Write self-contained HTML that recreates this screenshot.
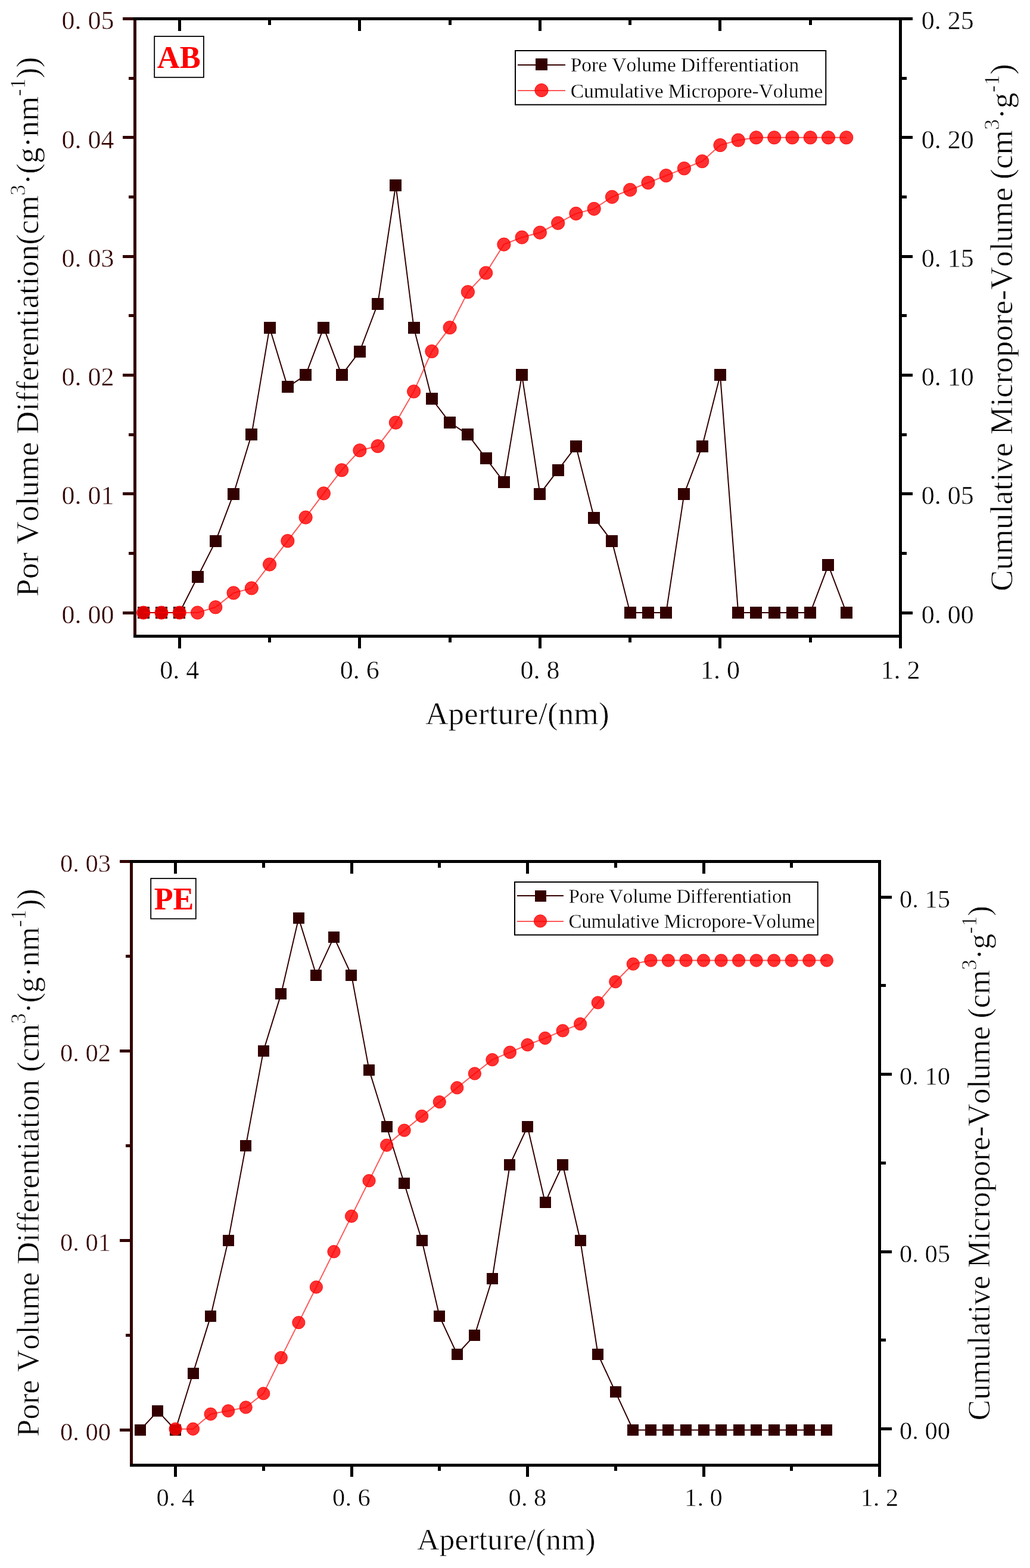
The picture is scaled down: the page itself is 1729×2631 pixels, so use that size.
<!DOCTYPE html>
<html><head><meta charset="utf-8"><title>Pore volume distribution</title>
<style>html,body{margin:0;padding:0;background:#fff;}svg{display:block;}text{font-family:'Liberation Serif', 'Times New Roman', serif;font-kerning:none;font-variant-ligatures:none;stroke:#fff;stroke-width:0.6px;}text.b{stroke:none;}text.lg{stroke-width:0.3px;}text.tk{stroke-width:0.45px;}</style>
</head><body>
<svg width="1729" height="2631" viewBox="0 0 1729 2631">
<rect width="1729" height="2631" fill="#fff"/>
<rect x="206" y="1026" width="18" height="5" fill="#330000"/>
<rect x="206" y="826" width="18" height="5" fill="#330000"/>
<rect x="206" y="627" width="18" height="5" fill="#330000"/>
<rect x="206" y="428" width="18" height="5" fill="#330000"/>
<rect x="206" y="228" width="18" height="5" fill="#330000"/>
<rect x="206" y="29" width="18" height="5" fill="#330000"/>
<rect x="216" y="926" width="8" height="5" fill="#330000"/>
<rect x="216" y="727" width="8" height="5" fill="#330000"/>
<rect x="216" y="527" width="8" height="5" fill="#330000"/>
<rect x="216" y="328" width="8" height="5" fill="#330000"/>
<rect x="216" y="129" width="8" height="5" fill="#330000"/>
<rect x="1514" y="1026" width="18" height="5" fill="#000"/>
<rect x="1514" y="826" width="18" height="5" fill="#000"/>
<rect x="1514" y="627" width="18" height="5" fill="#000"/>
<rect x="1514" y="428" width="18" height="5" fill="#000"/>
<rect x="1514" y="228" width="18" height="5" fill="#000"/>
<rect x="1514" y="29" width="18" height="5" fill="#000"/>
<rect x="1514" y="926" width="8" height="5" fill="#000"/>
<rect x="1514" y="727" width="8" height="5" fill="#000"/>
<rect x="1514" y="527" width="8" height="5" fill="#000"/>
<rect x="1514" y="328" width="8" height="5" fill="#000"/>
<rect x="1514" y="129" width="8" height="5" fill="#000"/>
<rect x="299" y="1070" width="5" height="18" fill="#000"/>
<rect x="299" y="34" width="5" height="18" fill="#000"/>
<rect x="601" y="1070" width="5" height="18" fill="#000"/>
<rect x="601" y="34" width="5" height="18" fill="#000"/>
<rect x="904" y="1070" width="5" height="18" fill="#000"/>
<rect x="904" y="34" width="5" height="18" fill="#000"/>
<rect x="1206" y="1070" width="5" height="18" fill="#000"/>
<rect x="1206" y="34" width="5" height="18" fill="#000"/>
<rect x="1509" y="1070" width="5" height="18" fill="#000"/>
<rect x="1509" y="34" width="5" height="18" fill="#000"/>
<rect x="450" y="1070" width="5" height="8" fill="#000"/>
<rect x="450" y="34" width="5" height="8" fill="#000"/>
<rect x="753" y="1070" width="5" height="8" fill="#000"/>
<rect x="753" y="34" width="5" height="8" fill="#000"/>
<rect x="1055" y="1070" width="5" height="8" fill="#000"/>
<rect x="1055" y="34" width="5" height="8" fill="#000"/>
<rect x="1358" y="1070" width="5" height="8" fill="#000"/>
<rect x="1358" y="34" width="5" height="8" fill="#000"/>
<rect x="224" y="29" width="5" height="1041" fill="#330000"/>
<rect x="1509" y="29" width="5" height="1041" fill="#000"/>
<rect x="224" y="1065" width="1290" height="5" fill="#000"/>
<rect x="224" y="29" width="1290" height="5" fill="#000"/>
<text x="103.50 125.50 147.50 169.50" y="1045.70" font-size="44" class="tk" fill="#330000">0.00</text>
<text x="103.50 125.50 147.50 169.50" y="846.40" font-size="44" class="tk" fill="#330000">0.01</text>
<text x="103.50 125.50 147.50 169.50" y="647.10" font-size="44" class="tk" fill="#330000">0.02</text>
<text x="103.50 125.50 147.50 169.50" y="447.80" font-size="44" class="tk" fill="#330000">0.03</text>
<text x="103.50 125.50 147.50 169.50" y="248.50" font-size="44" class="tk" fill="#330000">0.04</text>
<text x="103.50 125.50 147.50 169.50" y="49.20" font-size="44" class="tk" fill="#330000">0.05</text>
<text x="1546.80 1568.80 1590.80 1612.80" y="1045.70" font-size="44" class="tk" fill="#000">0.00</text>
<text x="1546.80 1568.80 1590.80 1612.80" y="846.40" font-size="44" class="tk" fill="#000">0.05</text>
<text x="1546.80 1568.80 1590.80 1612.80" y="647.10" font-size="44" class="tk" fill="#000">0.10</text>
<text x="1546.80 1568.80 1590.80 1612.80" y="447.80" font-size="44" class="tk" fill="#000">0.15</text>
<text x="1546.80 1568.80 1590.80 1612.80" y="248.50" font-size="44" class="tk" fill="#000">0.20</text>
<text x="1546.80 1568.80 1590.80 1612.80" y="49.20" font-size="44" class="tk" fill="#000">0.25</text>
<text x="268.30 290.30 312.30" y="1138.50" font-size="44" class="tk" fill="#000">0.4</text>
<text x="570.85 592.85 614.85" y="1138.50" font-size="44" class="tk" fill="#000">0.6</text>
<text x="873.40 895.40 917.40" y="1138.50" font-size="44" class="tk" fill="#000">0.8</text>
<text x="1175.95 1197.95 1219.95" y="1138.50" font-size="44" class="tk" fill="#000">1.0</text>
<text x="1478.50 1500.50 1522.50" y="1138.50" font-size="44" class="tk" fill="#000">1.2</text>
<polyline points="240.79,1028.00 271.04,1028.00 301.30,1028.00 331.55,968.21 361.81,908.42 392.06,828.70 422.32,729.05 452.57,549.68 482.83,649.33 513.09,629.40 543.34,549.68 573.59,629.40 603.85,589.54 634.11,509.82 664.36,310.52 694.62,549.68 724.87,669.26 755.12,709.12 785.38,729.05 815.63,768.91 845.89,808.77 876.14,629.40 906.40,828.70 936.65,788.84 966.91,748.98 997.16,868.56 1027.42,908.42 1057.67,1028.00 1087.93,1028.00 1118.18,1028.00 1148.44,828.70 1178.69,748.98 1208.95,629.40 1239.21,1028.00 1269.46,1028.00 1299.72,1028.00 1329.97,1028.00 1360.22,1028.00 1390.48,948.28 1420.73,1028.00" fill="none" stroke="#330000" stroke-width="2" stroke-linejoin="miter"/>
<rect x="231" y="1018" width="20" height="20" fill="#330000"/>
<rect x="261" y="1018" width="20" height="20" fill="#330000"/>
<rect x="291" y="1018" width="20" height="20" fill="#330000"/>
<rect x="322" y="958" width="20" height="20" fill="#330000"/>
<rect x="352" y="898" width="20" height="20" fill="#330000"/>
<rect x="382" y="819" width="20" height="20" fill="#330000"/>
<rect x="412" y="719" width="20" height="20" fill="#330000"/>
<rect x="443" y="540" width="20" height="20" fill="#330000"/>
<rect x="473" y="639" width="20" height="20" fill="#330000"/>
<rect x="503" y="619" width="20" height="20" fill="#330000"/>
<rect x="533" y="540" width="20" height="20" fill="#330000"/>
<rect x="564" y="619" width="20" height="20" fill="#330000"/>
<rect x="594" y="580" width="20" height="20" fill="#330000"/>
<rect x="624" y="500" width="20" height="20" fill="#330000"/>
<rect x="654" y="301" width="20" height="20" fill="#330000"/>
<rect x="685" y="540" width="20" height="20" fill="#330000"/>
<rect x="715" y="659" width="20" height="20" fill="#330000"/>
<rect x="745" y="699" width="20" height="20" fill="#330000"/>
<rect x="775" y="719" width="20" height="20" fill="#330000"/>
<rect x="806" y="759" width="20" height="20" fill="#330000"/>
<rect x="836" y="799" width="20" height="20" fill="#330000"/>
<rect x="866" y="619" width="20" height="20" fill="#330000"/>
<rect x="896" y="819" width="20" height="20" fill="#330000"/>
<rect x="927" y="779" width="20" height="20" fill="#330000"/>
<rect x="957" y="739" width="20" height="20" fill="#330000"/>
<rect x="987" y="859" width="20" height="20" fill="#330000"/>
<rect x="1017" y="898" width="20" height="20" fill="#330000"/>
<rect x="1048" y="1018" width="20" height="20" fill="#330000"/>
<rect x="1078" y="1018" width="20" height="20" fill="#330000"/>
<rect x="1108" y="1018" width="20" height="20" fill="#330000"/>
<rect x="1138" y="819" width="20" height="20" fill="#330000"/>
<rect x="1169" y="739" width="20" height="20" fill="#330000"/>
<rect x="1199" y="619" width="20" height="20" fill="#330000"/>
<rect x="1229" y="1018" width="20" height="20" fill="#330000"/>
<rect x="1259" y="1018" width="20" height="20" fill="#330000"/>
<rect x="1290" y="1018" width="20" height="20" fill="#330000"/>
<rect x="1320" y="1018" width="20" height="20" fill="#330000"/>
<rect x="1350" y="1018" width="20" height="20" fill="#330000"/>
<rect x="1380" y="938" width="20" height="20" fill="#330000"/>
<rect x="1411" y="1018" width="20" height="20" fill="#330000"/>
<polyline points="240.79,1028.00 271.04,1028.00 301.30,1028.00 331.55,1028.00 361.81,1018.83 392.06,994.92 422.32,986.94 452.57,947.08 482.83,907.62 513.09,868.16 543.34,827.90 573.59,788.84 603.85,755.76 634.11,748.58 664.36,709.12 694.62,656.90 724.87,589.54 755.12,549.68 785.38,489.89 815.63,458.00 845.89,410.17 876.14,398.21 906.40,390.24 936.65,374.30 966.91,358.35 997.16,350.38 1027.42,330.45 1057.67,318.49 1087.93,306.53 1118.18,294.58 1148.44,282.62 1178.69,270.66 1208.95,243.56 1239.21,235.18 1269.46,230.80 1299.72,230.80 1329.97,230.80 1360.22,230.80 1390.48,230.80 1420.73,230.80" fill="none" stroke="#ff0000" stroke-opacity="0.66" stroke-width="2"/>
<circle cx="240.79" cy="1028.00" r="11.10" fill="#ff0000" fill-opacity="0.81" stroke="#ff0000" stroke-opacity="0.9" stroke-width="1"/>
<circle cx="271.04" cy="1028.00" r="11.10" fill="#ff0000" fill-opacity="0.81" stroke="#ff0000" stroke-opacity="0.9" stroke-width="1"/>
<circle cx="301.30" cy="1028.00" r="11.10" fill="#ff0000" fill-opacity="0.81" stroke="#ff0000" stroke-opacity="0.9" stroke-width="1"/>
<circle cx="331.55" cy="1028.00" r="11.10" fill="#ff0000" fill-opacity="0.81" stroke="#ff0000" stroke-opacity="0.9" stroke-width="1"/>
<circle cx="361.81" cy="1018.83" r="11.10" fill="#ff0000" fill-opacity="0.81" stroke="#ff0000" stroke-opacity="0.9" stroke-width="1"/>
<circle cx="392.06" cy="994.92" r="11.10" fill="#ff0000" fill-opacity="0.81" stroke="#ff0000" stroke-opacity="0.9" stroke-width="1"/>
<circle cx="422.32" cy="986.94" r="11.10" fill="#ff0000" fill-opacity="0.81" stroke="#ff0000" stroke-opacity="0.9" stroke-width="1"/>
<circle cx="452.57" cy="947.08" r="11.10" fill="#ff0000" fill-opacity="0.81" stroke="#ff0000" stroke-opacity="0.9" stroke-width="1"/>
<circle cx="482.83" cy="907.62" r="11.10" fill="#ff0000" fill-opacity="0.81" stroke="#ff0000" stroke-opacity="0.9" stroke-width="1"/>
<circle cx="513.09" cy="868.16" r="11.10" fill="#ff0000" fill-opacity="0.81" stroke="#ff0000" stroke-opacity="0.9" stroke-width="1"/>
<circle cx="543.34" cy="827.90" r="11.10" fill="#ff0000" fill-opacity="0.81" stroke="#ff0000" stroke-opacity="0.9" stroke-width="1"/>
<circle cx="573.59" cy="788.84" r="11.10" fill="#ff0000" fill-opacity="0.81" stroke="#ff0000" stroke-opacity="0.9" stroke-width="1"/>
<circle cx="603.85" cy="755.76" r="11.10" fill="#ff0000" fill-opacity="0.81" stroke="#ff0000" stroke-opacity="0.9" stroke-width="1"/>
<circle cx="634.11" cy="748.58" r="11.10" fill="#ff0000" fill-opacity="0.81" stroke="#ff0000" stroke-opacity="0.9" stroke-width="1"/>
<circle cx="664.36" cy="709.12" r="11.10" fill="#ff0000" fill-opacity="0.81" stroke="#ff0000" stroke-opacity="0.9" stroke-width="1"/>
<circle cx="694.62" cy="656.90" r="11.10" fill="#ff0000" fill-opacity="0.81" stroke="#ff0000" stroke-opacity="0.9" stroke-width="1"/>
<circle cx="724.87" cy="589.54" r="11.10" fill="#ff0000" fill-opacity="0.81" stroke="#ff0000" stroke-opacity="0.9" stroke-width="1"/>
<circle cx="755.12" cy="549.68" r="11.10" fill="#ff0000" fill-opacity="0.81" stroke="#ff0000" stroke-opacity="0.9" stroke-width="1"/>
<circle cx="785.38" cy="489.89" r="11.10" fill="#ff0000" fill-opacity="0.81" stroke="#ff0000" stroke-opacity="0.9" stroke-width="1"/>
<circle cx="815.63" cy="458.00" r="11.10" fill="#ff0000" fill-opacity="0.81" stroke="#ff0000" stroke-opacity="0.9" stroke-width="1"/>
<circle cx="845.89" cy="410.17" r="11.10" fill="#ff0000" fill-opacity="0.81" stroke="#ff0000" stroke-opacity="0.9" stroke-width="1"/>
<circle cx="876.14" cy="398.21" r="11.10" fill="#ff0000" fill-opacity="0.81" stroke="#ff0000" stroke-opacity="0.9" stroke-width="1"/>
<circle cx="906.40" cy="390.24" r="11.10" fill="#ff0000" fill-opacity="0.81" stroke="#ff0000" stroke-opacity="0.9" stroke-width="1"/>
<circle cx="936.65" cy="374.30" r="11.10" fill="#ff0000" fill-opacity="0.81" stroke="#ff0000" stroke-opacity="0.9" stroke-width="1"/>
<circle cx="966.91" cy="358.35" r="11.10" fill="#ff0000" fill-opacity="0.81" stroke="#ff0000" stroke-opacity="0.9" stroke-width="1"/>
<circle cx="997.16" cy="350.38" r="11.10" fill="#ff0000" fill-opacity="0.81" stroke="#ff0000" stroke-opacity="0.9" stroke-width="1"/>
<circle cx="1027.42" cy="330.45" r="11.10" fill="#ff0000" fill-opacity="0.81" stroke="#ff0000" stroke-opacity="0.9" stroke-width="1"/>
<circle cx="1057.67" cy="318.49" r="11.10" fill="#ff0000" fill-opacity="0.81" stroke="#ff0000" stroke-opacity="0.9" stroke-width="1"/>
<circle cx="1087.93" cy="306.53" r="11.10" fill="#ff0000" fill-opacity="0.81" stroke="#ff0000" stroke-opacity="0.9" stroke-width="1"/>
<circle cx="1118.18" cy="294.58" r="11.10" fill="#ff0000" fill-opacity="0.81" stroke="#ff0000" stroke-opacity="0.9" stroke-width="1"/>
<circle cx="1148.44" cy="282.62" r="11.10" fill="#ff0000" fill-opacity="0.81" stroke="#ff0000" stroke-opacity="0.9" stroke-width="1"/>
<circle cx="1178.69" cy="270.66" r="11.10" fill="#ff0000" fill-opacity="0.81" stroke="#ff0000" stroke-opacity="0.9" stroke-width="1"/>
<circle cx="1208.95" cy="243.56" r="11.10" fill="#ff0000" fill-opacity="0.81" stroke="#ff0000" stroke-opacity="0.9" stroke-width="1"/>
<circle cx="1239.21" cy="235.18" r="11.10" fill="#ff0000" fill-opacity="0.81" stroke="#ff0000" stroke-opacity="0.9" stroke-width="1"/>
<circle cx="1269.46" cy="230.80" r="11.10" fill="#ff0000" fill-opacity="0.81" stroke="#ff0000" stroke-opacity="0.9" stroke-width="1"/>
<circle cx="1299.72" cy="230.80" r="11.10" fill="#ff0000" fill-opacity="0.81" stroke="#ff0000" stroke-opacity="0.9" stroke-width="1"/>
<circle cx="1329.97" cy="230.80" r="11.10" fill="#ff0000" fill-opacity="0.81" stroke="#ff0000" stroke-opacity="0.9" stroke-width="1"/>
<circle cx="1360.22" cy="230.80" r="11.10" fill="#ff0000" fill-opacity="0.81" stroke="#ff0000" stroke-opacity="0.9" stroke-width="1"/>
<circle cx="1390.48" cy="230.80" r="11.10" fill="#ff0000" fill-opacity="0.81" stroke="#ff0000" stroke-opacity="0.9" stroke-width="1"/>
<circle cx="1420.73" cy="230.80" r="11.10" fill="#ff0000" fill-opacity="0.81" stroke="#ff0000" stroke-opacity="0.9" stroke-width="1"/>
<rect x="259.20" y="61.00" width="82.70" height="68.80" fill="none" stroke="#000" stroke-width="1.8"/>
<text x="263.80" y="113.60" font-size="52.5" font-weight="bold" class="b" fill="#ff0000">AB</text>
<rect x="865.00" y="85.00" width="521.30" height="90.70" fill="none" stroke="#000" stroke-width="2"/>
<line x1="869" y1="109" x2="949" y2="109" stroke="#330000" stroke-width="2"/>
<rect x="899" y="98" width="20" height="20" fill="#330000"/>
<line x1="869" y1="152" x2="949" y2="152" stroke="#ff0000" stroke-opacity="0.66" stroke-width="2"/>
<circle cx="909" cy="151.5" r="11.10" fill="#ff0000" fill-opacity="0.81" stroke="#ff0000" stroke-opacity="0.9" stroke-width="1"/>
<text x="957.8" y="119.8" font-size="33.6" letter-spacing="-0.1" class="lg" fill="#000">Pore Volume Differentiation</text>
<text x="957.8" y="163.5" font-size="33.6" letter-spacing="-0.1" class="lg" fill="#000">Cumulative Micropore-Volume</text>
<text transform="translate(64.30,1001.00) rotate(-90)" font-size="53" letter-spacing="0.17" fill="#000">Por Volume Differentiation(cm<tspan font-size="36" dy="-22">3</tspan><tspan dy="22">·(g·nm</tspan><tspan font-size="36" dy="-22">-1</tspan><tspan dy="22">))</tspan></text>
<text transform="translate(1699.30,991.90) rotate(-90)" font-size="53" letter-spacing="0.18" fill="#000">Cumulative Micropore-Volume (cm<tspan font-size="36" dy="-22">3</tspan><tspan dy="22">·g</tspan><tspan font-size="36" dy="-22">-1</tspan><tspan dy="22">)</tspan></text>
<text x="868.50" y="1214.90" font-size="53" letter-spacing="0.2" text-anchor="middle" fill="#000">Aperture/(nm)</text>
<rect x="201" y="2397" width="17" height="5" fill="#330000"/>
<rect x="201" y="2079" width="17" height="5" fill="#330000"/>
<rect x="201" y="1761" width="17" height="5" fill="#330000"/>
<rect x="201" y="1443" width="17" height="5" fill="#330000"/>
<rect x="211" y="2238" width="7" height="5" fill="#330000"/>
<rect x="211" y="1920" width="7" height="5" fill="#330000"/>
<rect x="211" y="1602" width="7" height="5" fill="#330000"/>
<rect x="1479" y="2395" width="18" height="5" fill="#000"/>
<rect x="1479" y="2098" width="18" height="5" fill="#000"/>
<rect x="1479" y="1800" width="18" height="5" fill="#000"/>
<rect x="1479" y="1503" width="18" height="5" fill="#000"/>
<rect x="1479" y="2246" width="8" height="5" fill="#000"/>
<rect x="1479" y="1949" width="8" height="5" fill="#000"/>
<rect x="1479" y="1651" width="8" height="5" fill="#000"/>
<rect x="292" y="2461" width="5" height="17" fill="#000"/>
<rect x="292" y="1448" width="5" height="18" fill="#000"/>
<rect x="588" y="2461" width="5" height="17" fill="#000"/>
<rect x="588" y="1448" width="5" height="18" fill="#000"/>
<rect x="883" y="2461" width="5" height="17" fill="#000"/>
<rect x="883" y="1448" width="5" height="18" fill="#000"/>
<rect x="1179" y="2461" width="5" height="17" fill="#000"/>
<rect x="1179" y="1448" width="5" height="18" fill="#000"/>
<rect x="1474" y="2461" width="5" height="17" fill="#000"/>
<rect x="1474" y="1448" width="5" height="18" fill="#000"/>
<rect x="440" y="2461" width="5" height="7" fill="#000"/>
<rect x="440" y="1448" width="5" height="8" fill="#000"/>
<rect x="735" y="2461" width="5" height="7" fill="#000"/>
<rect x="735" y="1448" width="5" height="8" fill="#000"/>
<rect x="1031" y="2461" width="5" height="7" fill="#000"/>
<rect x="1031" y="1448" width="5" height="8" fill="#000"/>
<rect x="1326" y="2461" width="5" height="7" fill="#000"/>
<rect x="1326" y="1448" width="5" height="8" fill="#000"/>
<rect x="218" y="1443" width="5" height="1018" fill="#330000"/>
<rect x="1474" y="1443" width="5" height="1018" fill="#000"/>
<rect x="218" y="2456" width="1261" height="5" fill="#000"/>
<rect x="218" y="1443" width="1261" height="5" fill="#000"/>
<text x="101.00 122.25 143.50 164.75" y="2417.00" font-size="42.5" class="tk" fill="#330000">0.00</text>
<text x="101.00 122.25 143.50 164.75" y="2098.90" font-size="42.5" class="tk" fill="#330000">0.01</text>
<text x="101.00 122.25 143.50 164.75" y="1780.80" font-size="42.5" class="tk" fill="#330000">0.02</text>
<text x="101.00 122.25 143.50 164.75" y="1462.70" font-size="42.5" class="tk" fill="#330000">0.03</text>
<text x="1510.00 1531.25 1552.50 1573.75" y="2415.20" font-size="42.5" class="tk" fill="#000">0.00</text>
<text x="1510.00 1531.25 1552.50 1573.75" y="2117.65" font-size="42.5" class="tk" fill="#000">0.05</text>
<text x="1510.00 1531.25 1552.50 1573.75" y="1820.10" font-size="42.5" class="tk" fill="#000">0.10</text>
<text x="1510.00 1531.25 1552.50 1573.75" y="1522.55" font-size="42.5" class="tk" fill="#000">0.15</text>
<text x="262.62 283.88 305.12" y="2526.50" font-size="42.5" class="tk" fill="#000">0.4</text>
<text x="558.12 579.38 600.62" y="2526.50" font-size="42.5" class="tk" fill="#000">0.6</text>
<text x="853.62 874.88 896.12" y="2526.50" font-size="42.5" class="tk" fill="#000">0.8</text>
<text x="1149.12 1170.38 1191.62" y="2526.50" font-size="42.5" class="tk" fill="#000">1.0</text>
<text x="1444.62 1465.87 1487.12" y="2526.50" font-size="42.5" class="tk" fill="#000">1.2</text>
<polyline points="235.40,2399.50 264.95,2367.69 294.50,2399.50 324.05,2304.07 353.60,2208.64 383.15,2081.40 412.70,1922.35 442.25,1763.30 471.80,1667.87 501.35,1540.63 530.90,1636.06 560.45,1572.44 590.00,1636.06 619.55,1795.11 649.10,1890.54 678.65,1985.97 708.20,2081.40 737.75,2208.64 767.30,2272.26 796.85,2240.45 826.40,2145.02 855.95,1954.16 885.50,1890.54 915.05,2017.78 944.60,1954.16 974.15,2081.40 1003.70,2272.26 1033.25,2335.88 1062.80,2399.50 1092.35,2399.50 1121.90,2399.50 1151.45,2399.50 1181.00,2399.50 1210.55,2399.50 1240.10,2399.50 1269.65,2399.50 1299.20,2399.50 1328.75,2399.50 1358.30,2399.50 1387.85,2399.50" fill="none" stroke="#330000" stroke-width="2" stroke-linejoin="miter"/>
<rect x="226" y="2390" width="19" height="19" fill="#330000"/>
<rect x="255" y="2358" width="19" height="19" fill="#330000"/>
<rect x="285" y="2390" width="19" height="19" fill="#330000"/>
<rect x="315" y="2295" width="19" height="19" fill="#330000"/>
<rect x="344" y="2199" width="19" height="19" fill="#330000"/>
<rect x="374" y="2072" width="19" height="19" fill="#330000"/>
<rect x="403" y="1913" width="19" height="19" fill="#330000"/>
<rect x="433" y="1754" width="19" height="19" fill="#330000"/>
<rect x="462" y="1658" width="19" height="19" fill="#330000"/>
<rect x="492" y="1531" width="19" height="19" fill="#330000"/>
<rect x="521" y="1627" width="19" height="19" fill="#330000"/>
<rect x="551" y="1563" width="19" height="19" fill="#330000"/>
<rect x="580" y="1627" width="19" height="19" fill="#330000"/>
<rect x="610" y="1786" width="19" height="19" fill="#330000"/>
<rect x="640" y="1881" width="19" height="19" fill="#330000"/>
<rect x="669" y="1976" width="19" height="19" fill="#330000"/>
<rect x="699" y="2072" width="19" height="19" fill="#330000"/>
<rect x="728" y="2199" width="19" height="19" fill="#330000"/>
<rect x="758" y="2263" width="19" height="19" fill="#330000"/>
<rect x="787" y="2231" width="19" height="19" fill="#330000"/>
<rect x="817" y="2136" width="19" height="19" fill="#330000"/>
<rect x="846" y="1945" width="19" height="19" fill="#330000"/>
<rect x="876" y="1881" width="19" height="19" fill="#330000"/>
<rect x="906" y="2008" width="19" height="19" fill="#330000"/>
<rect x="935" y="1945" width="19" height="19" fill="#330000"/>
<rect x="965" y="2072" width="19" height="19" fill="#330000"/>
<rect x="994" y="2263" width="19" height="19" fill="#330000"/>
<rect x="1024" y="2326" width="19" height="19" fill="#330000"/>
<rect x="1053" y="2390" width="19" height="19" fill="#330000"/>
<rect x="1083" y="2390" width="19" height="19" fill="#330000"/>
<rect x="1112" y="2390" width="19" height="19" fill="#330000"/>
<rect x="1142" y="2390" width="19" height="19" fill="#330000"/>
<rect x="1172" y="2390" width="19" height="19" fill="#330000"/>
<rect x="1201" y="2390" width="19" height="19" fill="#330000"/>
<rect x="1231" y="2390" width="19" height="19" fill="#330000"/>
<rect x="1260" y="2390" width="19" height="19" fill="#330000"/>
<rect x="1290" y="2390" width="19" height="19" fill="#330000"/>
<rect x="1319" y="2390" width="19" height="19" fill="#330000"/>
<rect x="1349" y="2390" width="19" height="19" fill="#330000"/>
<rect x="1378" y="2390" width="19" height="19" fill="#330000"/>
<polyline points="294.50,2397.70 324.05,2397.70 353.60,2372.71 383.15,2367.35 412.70,2361.40 442.25,2338.19 471.80,2278.08 501.35,2219.17 530.90,2159.66 560.45,2100.15 590.00,2040.64 619.55,1981.13 649.10,1921.62 678.65,1896.63 708.20,1872.82 737.75,1849.02 767.30,1825.21 796.85,1801.41 826.40,1778.20 855.95,1765.70 885.50,1753.21 915.05,1741.90 944.60,1729.40 974.15,1718.10 1003.70,1682.39 1033.25,1647.28 1062.80,1617.52 1092.35,1611.57 1121.90,1611.57 1151.45,1611.57 1181.00,1611.57 1210.55,1611.57 1240.10,1611.57 1269.65,1611.57 1299.20,1611.57 1328.75,1611.57 1358.30,1611.57 1387.85,1611.57" fill="none" stroke="#ff0000" stroke-opacity="0.66" stroke-width="2"/>
<circle cx="294.50" cy="2397.70" r="10.60" fill="#ff0000" fill-opacity="0.81" stroke="#ff0000" stroke-opacity="0.9" stroke-width="1"/>
<circle cx="324.05" cy="2397.70" r="10.60" fill="#ff0000" fill-opacity="0.81" stroke="#ff0000" stroke-opacity="0.9" stroke-width="1"/>
<circle cx="353.60" cy="2372.71" r="10.60" fill="#ff0000" fill-opacity="0.81" stroke="#ff0000" stroke-opacity="0.9" stroke-width="1"/>
<circle cx="383.15" cy="2367.35" r="10.60" fill="#ff0000" fill-opacity="0.81" stroke="#ff0000" stroke-opacity="0.9" stroke-width="1"/>
<circle cx="412.70" cy="2361.40" r="10.60" fill="#ff0000" fill-opacity="0.81" stroke="#ff0000" stroke-opacity="0.9" stroke-width="1"/>
<circle cx="442.25" cy="2338.19" r="10.60" fill="#ff0000" fill-opacity="0.81" stroke="#ff0000" stroke-opacity="0.9" stroke-width="1"/>
<circle cx="471.80" cy="2278.08" r="10.60" fill="#ff0000" fill-opacity="0.81" stroke="#ff0000" stroke-opacity="0.9" stroke-width="1"/>
<circle cx="501.35" cy="2219.17" r="10.60" fill="#ff0000" fill-opacity="0.81" stroke="#ff0000" stroke-opacity="0.9" stroke-width="1"/>
<circle cx="530.90" cy="2159.66" r="10.60" fill="#ff0000" fill-opacity="0.81" stroke="#ff0000" stroke-opacity="0.9" stroke-width="1"/>
<circle cx="560.45" cy="2100.15" r="10.60" fill="#ff0000" fill-opacity="0.81" stroke="#ff0000" stroke-opacity="0.9" stroke-width="1"/>
<circle cx="590.00" cy="2040.64" r="10.60" fill="#ff0000" fill-opacity="0.81" stroke="#ff0000" stroke-opacity="0.9" stroke-width="1"/>
<circle cx="619.55" cy="1981.13" r="10.60" fill="#ff0000" fill-opacity="0.81" stroke="#ff0000" stroke-opacity="0.9" stroke-width="1"/>
<circle cx="649.10" cy="1921.62" r="10.60" fill="#ff0000" fill-opacity="0.81" stroke="#ff0000" stroke-opacity="0.9" stroke-width="1"/>
<circle cx="678.65" cy="1896.63" r="10.60" fill="#ff0000" fill-opacity="0.81" stroke="#ff0000" stroke-opacity="0.9" stroke-width="1"/>
<circle cx="708.20" cy="1872.82" r="10.60" fill="#ff0000" fill-opacity="0.81" stroke="#ff0000" stroke-opacity="0.9" stroke-width="1"/>
<circle cx="737.75" cy="1849.02" r="10.60" fill="#ff0000" fill-opacity="0.81" stroke="#ff0000" stroke-opacity="0.9" stroke-width="1"/>
<circle cx="767.30" cy="1825.21" r="10.60" fill="#ff0000" fill-opacity="0.81" stroke="#ff0000" stroke-opacity="0.9" stroke-width="1"/>
<circle cx="796.85" cy="1801.41" r="10.60" fill="#ff0000" fill-opacity="0.81" stroke="#ff0000" stroke-opacity="0.9" stroke-width="1"/>
<circle cx="826.40" cy="1778.20" r="10.60" fill="#ff0000" fill-opacity="0.81" stroke="#ff0000" stroke-opacity="0.9" stroke-width="1"/>
<circle cx="855.95" cy="1765.70" r="10.60" fill="#ff0000" fill-opacity="0.81" stroke="#ff0000" stroke-opacity="0.9" stroke-width="1"/>
<circle cx="885.50" cy="1753.21" r="10.60" fill="#ff0000" fill-opacity="0.81" stroke="#ff0000" stroke-opacity="0.9" stroke-width="1"/>
<circle cx="915.05" cy="1741.90" r="10.60" fill="#ff0000" fill-opacity="0.81" stroke="#ff0000" stroke-opacity="0.9" stroke-width="1"/>
<circle cx="944.60" cy="1729.40" r="10.60" fill="#ff0000" fill-opacity="0.81" stroke="#ff0000" stroke-opacity="0.9" stroke-width="1"/>
<circle cx="974.15" cy="1718.10" r="10.60" fill="#ff0000" fill-opacity="0.81" stroke="#ff0000" stroke-opacity="0.9" stroke-width="1"/>
<circle cx="1003.70" cy="1682.39" r="10.60" fill="#ff0000" fill-opacity="0.81" stroke="#ff0000" stroke-opacity="0.9" stroke-width="1"/>
<circle cx="1033.25" cy="1647.28" r="10.60" fill="#ff0000" fill-opacity="0.81" stroke="#ff0000" stroke-opacity="0.9" stroke-width="1"/>
<circle cx="1062.80" cy="1617.52" r="10.60" fill="#ff0000" fill-opacity="0.81" stroke="#ff0000" stroke-opacity="0.9" stroke-width="1"/>
<circle cx="1092.35" cy="1611.57" r="10.60" fill="#ff0000" fill-opacity="0.81" stroke="#ff0000" stroke-opacity="0.9" stroke-width="1"/>
<circle cx="1121.90" cy="1611.57" r="10.60" fill="#ff0000" fill-opacity="0.81" stroke="#ff0000" stroke-opacity="0.9" stroke-width="1"/>
<circle cx="1151.45" cy="1611.57" r="10.60" fill="#ff0000" fill-opacity="0.81" stroke="#ff0000" stroke-opacity="0.9" stroke-width="1"/>
<circle cx="1181.00" cy="1611.57" r="10.60" fill="#ff0000" fill-opacity="0.81" stroke="#ff0000" stroke-opacity="0.9" stroke-width="1"/>
<circle cx="1210.55" cy="1611.57" r="10.60" fill="#ff0000" fill-opacity="0.81" stroke="#ff0000" stroke-opacity="0.9" stroke-width="1"/>
<circle cx="1240.10" cy="1611.57" r="10.60" fill="#ff0000" fill-opacity="0.81" stroke="#ff0000" stroke-opacity="0.9" stroke-width="1"/>
<circle cx="1269.65" cy="1611.57" r="10.60" fill="#ff0000" fill-opacity="0.81" stroke="#ff0000" stroke-opacity="0.9" stroke-width="1"/>
<circle cx="1299.20" cy="1611.57" r="10.60" fill="#ff0000" fill-opacity="0.81" stroke="#ff0000" stroke-opacity="0.9" stroke-width="1"/>
<circle cx="1328.75" cy="1611.57" r="10.60" fill="#ff0000" fill-opacity="0.81" stroke="#ff0000" stroke-opacity="0.9" stroke-width="1"/>
<circle cx="1358.30" cy="1611.57" r="10.60" fill="#ff0000" fill-opacity="0.81" stroke="#ff0000" stroke-opacity="0.9" stroke-width="1"/>
<circle cx="1387.85" cy="1611.57" r="10.60" fill="#ff0000" fill-opacity="0.81" stroke="#ff0000" stroke-opacity="0.9" stroke-width="1"/>
<rect x="253.20" y="1474.00" width="75.60" height="67.60" fill="none" stroke="#000" stroke-width="1.8"/>
<text x="258.70" y="1525.90" font-size="52" font-weight="bold" class="b" fill="#ff0000">PE</text>
<rect x="864.00" y="1480.00" width="508.70" height="88.70" fill="none" stroke="#000" stroke-width="2"/>
<line x1="868" y1="1503" x2="946" y2="1503" stroke="#330000" stroke-width="2"/>
<rect x="898" y="1494" width="19" height="19" fill="#330000"/>
<line x1="868" y1="1546" x2="946" y2="1546" stroke="#ff0000" stroke-opacity="0.66" stroke-width="2"/>
<circle cx="907" cy="1545.5" r="10.60" fill="#ff0000" fill-opacity="0.81" stroke="#ff0000" stroke-opacity="0.9" stroke-width="1"/>
<text x="954.5" y="1514.8" font-size="33" letter-spacing="-0.2" class="lg" fill="#000">Pore Volume Differentiation</text>
<text x="954.5" y="1556.5" font-size="33" letter-spacing="-0.2" class="lg" fill="#000">Cumulative Micropore-Volume</text>
<text transform="translate(65.00,2410.80) rotate(-90)" font-size="52" letter-spacing="0.04" fill="#000">Pore Volume Differentiation (cm<tspan font-size="35.3" dy="-21.7">3</tspan><tspan dy="21.7">·(g·nm</tspan><tspan font-size="35.3" dy="-21.7">-1</tspan><tspan dy="21.7">))</tspan></text>
<text transform="translate(1661.00,2383.50) rotate(-90)" font-size="52" letter-spacing="0.06" fill="#000">Cumulative Micropore-Volume (cm<tspan font-size="35.3" dy="-21.7">3</tspan><tspan dy="21.7">·g</tspan><tspan font-size="35.3" dy="-21.7">-1</tspan><tspan dy="21.7">)</tspan></text>
<text x="850.00" y="2600.40" font-size="51.4" letter-spacing="0.2" text-anchor="middle" fill="#000">Aperture/(nm)</text>
</svg>
</body></html>
